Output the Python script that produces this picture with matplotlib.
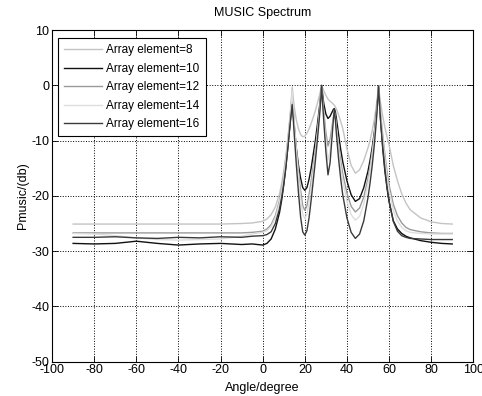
import matplotlib
matplotlib.use('Agg')
import matplotlib.pyplot as plt

plt.rcParams['font.family'] = ['Liberation Sans', 'DejaVu Sans']
plt.rcParams['axes.unicode_minus'] = False

# angle grid (degrees) shared by all curves
angles = [-90, -80, -70, -60, -50, -40, -30, -20, -10, -5,
          0, 2, 4, 6, 8, 9, 10, 11, 12, 13, 13.5,
          14, 14.5, 15, 16, 17, 18, 19, 20, 21, 22, 23, 24, 25, 26, 27, 27.5,
          28, 28.5, 29, 30, 31, 32, 33, 33.5, 34, 34.5, 35, 36, 37, 38,
          40, 42, 44, 46, 48, 50, 51, 52, 53, 54, 54.5,
          55, 55.5, 56, 57, 58, 59, 60, 62, 64, 66, 68, 70, 75, 80, 85, 90]

# spectrum values (dB)
p8 = [-25.1, -25.1, -25.1, -25.1, -25.1, -25.1, -25.1, -25.1, -25.0, -24.9,
      -24.6, -24.2, -23.4, -22.0, -19.6, -17.8, -15.5, -12.8, -9.5, -5.5, -3.0,
      -0.3, -2.2, -4.0, -6.3, -7.9, -8.9, -9.3, -9.2, -8.7, -7.9, -6.9, -5.8, -4.6, -3.2, -1.7, -0.9,
      0.0, -0.5, -1.0, -1.8, -2.5, -2.9, -3.2, -3.4, -3.6, -3.9, -4.3, -5.3, -6.5, -7.8,
      -11.5, -14.5, -15.9, -15.3, -13.6, -11.3, -9.9, -8.2, -6.2, -3.5, -1.9,
      -0.2, -1.8, -3.3, -5.6, -7.6, -9.3, -10.8, -14.5, -17.3, -19.6, -21.3, -22.5, -24.0, -24.7, -25.0, -25.1]
p10 = [-28.6, -28.7, -28.6, -28.2, -28.6, -28.9, -28.7, -28.6, -28.8, -28.7,
       -28.9, -28.6, -27.8, -26.0, -23.0, -20.8, -18.0, -14.8, -11.0, -7.0, -5.0,
       -3.0, -5.0, -7.5, -11.5, -14.5, -16.8, -18.5, -19.0, -18.5, -17.0, -15.0, -12.5, -10.0, -7.0, -3.8, -2.0,
       0.0, -1.8, -3.3, -5.2, -6.0, -5.6, -4.8, -4.4, -4.2, -4.8, -6.0, -8.8, -11.5, -13.8,
       -17.3, -19.8, -21.0, -20.5, -18.5, -15.5, -13.5, -11.2, -8.5, -5.0, -2.8,
       -0.3, -3.5, -6.5, -11.5, -15.5, -18.5, -21.0, -24.5, -26.0, -26.8, -27.3, -27.6, -28.1, -28.4, -28.6, -28.7]
p12 = [-26.7, -26.7, -26.7, -26.7, -26.7, -26.7, -26.7, -26.7, -26.7, -26.6,
       -26.4, -26.0, -25.2, -23.6, -20.8, -18.8, -16.3, -13.3, -9.8, -6.0, -3.8,
       -1.5, -4.0, -7.0, -11.5, -15.5, -19.0, -21.8, -22.6, -21.8, -19.8, -17.3, -14.6, -11.6, -8.3, -4.5, -2.4,
       -0.2, -2.5, -4.8, -8.5, -11.0, -9.8, -7.2, -6.0, -5.0, -5.8, -7.5, -10.8, -13.6, -16.0,
       -19.5, -21.9, -22.9, -22.2, -20.2, -16.8, -14.6, -12.0, -9.0, -5.3, -3.0,
       -0.2, -2.8, -5.2, -9.0, -12.5, -15.5, -18.0, -21.5, -23.6, -24.9, -25.7, -26.1, -26.5, -26.7, -26.8, -26.8]
p14 = [-26.8, -26.9, -27.2, -27.6, -27.9, -28.0, -27.9, -27.8, -27.3, -26.9,
       -26.6, -26.3, -25.6, -24.0, -21.2, -19.2, -16.6, -13.5, -9.8, -5.8, -3.5,
       -1.0, -3.8, -7.0, -12.0, -16.5, -20.5, -23.3, -24.1, -23.3, -21.2, -18.5, -15.5, -12.3, -8.8, -4.8, -2.6,
       -0.2, -3.0, -5.6, -10.0, -13.5, -11.8, -8.0, -6.2, -4.6, -5.8, -7.8, -11.5, -14.6, -17.2,
       -21.0, -23.4, -24.4, -23.7, -21.5, -17.8, -15.4, -12.6, -9.4, -5.5, -3.0,
       -0.2, -3.0, -5.6, -9.6, -13.3, -16.4, -19.0, -22.6, -24.6, -25.7, -26.3, -26.6, -26.8, -26.9, -26.9, -26.9]
p16 = [-27.5, -27.5, -27.4, -27.6, -27.7, -27.5, -27.6, -27.4, -27.5, -27.3,
       -27.2, -27.0, -26.5, -25.0, -22.3, -20.3, -17.8, -14.8, -11.0, -7.0, -5.2,
       -3.5, -6.0, -9.0, -14.5, -19.5, -23.8, -26.5, -27.1, -26.3, -24.0, -20.8, -17.3, -13.7, -9.8, -5.5, -3.0,
       -0.1, -3.5, -6.5, -12.0, -16.2, -14.0, -9.0, -6.5, -4.3, -6.2, -8.8, -13.2, -16.8, -19.8,
       -24.0, -26.6, -27.7, -26.9, -24.5, -20.3, -17.6, -14.5, -10.8, -6.3, -3.5,
       -0.1, -3.5, -6.5, -11.0, -15.0, -18.3, -21.0, -24.6, -26.4, -27.2, -27.5, -27.7, -27.8, -27.9, -27.9, -27.9]

labels = ['Array element=8', 'Array element=10', 'Array element=12',
          'Array element=14', 'Array element=16']
colors = ['#c4c4c4', '#111111', '#9a9a9a', '#dedede', '#3a3a3a']

fig = plt.figure(figsize=(4.82, 3.96), dpi=100)
ax = fig.add_axes([0.108, 0.0866, 0.874, 0.8376])

for vals, lab, c in zip([p8, p10, p12, p14, p16], labels, colors):
    ax.plot(angles, vals, color=c, linewidth=1.0, label=lab)

ax.set_xlim(-100, 100)
ax.set_ylim(-50, 10)
ax.set_xticks(range(-100, 101, 20))
ax.set_yticks(range(-50, 11, 10))
ax.tick_params(direction='in', length=4, width=0.6, labelsize=9, top=True, right=True, pad=2)
ax.grid(True, linestyle=':', color='black', linewidth=0.7)
for s in ax.spines.values():
    s.set_linewidth(0.8)

ax.set_title('MUSIC Spectrum', fontsize=9, pad=10)
ax.set_xlabel('Angle/degree', fontsize=9, labelpad=4)
ax.set_ylabel('Pmusic/(db)', fontsize=9, labelpad=2)

leg = ax.legend(loc='upper left', bbox_to_anchor=(0.014, 0.975), borderaxespad=0,
                fontsize=8.5, handlelength=3.2, handletextpad=0.4, labelspacing=0.55,
                fancybox=False, framealpha=1, edgecolor='black', borderpad=0.5)
leg.get_frame().set_linewidth(0.8)

plt.savefig('out.png', dpi=100)
